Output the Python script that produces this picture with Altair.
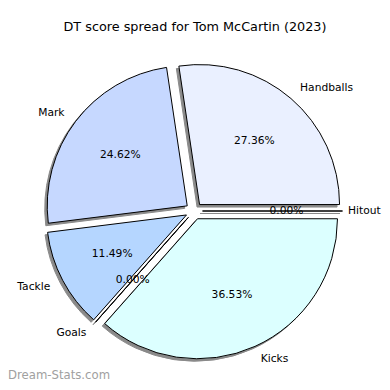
import math
import altair as alt
import pandas as pd

categories = ["Handballs", "Mark", "Tackle", "Goals", "Kicks", "Hitout"]
values = [27.36, 24.62, 11.49, 0.00, 36.53, 0.00]
colors = ["#eaf0ff", "#c6d8ff", "#b5d6ff", "#ffffff", "#dcffff", "#ffffff"]
pct_labels = ["27.36%", "24.62%", "11.49%", "0.00%", "36.53%", "0.00%"]
title_text = "DT score spread for Tom McCartin (2023)"
watermark = ["Dream-Stats.com"]

R = 140.0
EXPLODE = 8.5
FONT = "DejaVu Sans"

df = pd.DataFrame({
    "order": list(range(len(categories))),
    "category": categories,
    "value": values,
    "color": colors,
    "pct": pct_labels,
})

TWO_PI = 2 * math.pi

base = alt.Chart(df).transform_window(
    cum1="sum(value)", sort=[alt.SortField("order")], frame=[None, 0]
).transform_calculate(
    cum0="datum.cum1 - datum.value",
).transform_calculate(
    mid=f"(datum.cum0 + datum.cum1) / 2 * {TWO_PI} / 100",
).transform_calculate(
    ex=f"{EXPLODE} * cos(datum.mid)",
    ey=f"{EXPLODE} * sin(datum.mid)",
).transform_calculate(
    px=f"datum.ex + {0.6 * R} * cos(datum.mid)",
    py=f"datum.ey + {0.6 * R} * sin(datum.mid)",
    lx=f"datum.ex + {1.1 * R} * cos(datum.mid)",
    ly=f"datum.ey + {1.1 * R} * sin(datum.mid)",
).transform_calculate(
    # keep right-hand labels inside the drawing area
    lx2="datum.lx > 0 ? min(datum.lx, 154) : datum.lx",
)

xs = alt.Scale(domain=[-186, 188], nice=False, zero=False)
ys = alt.Scale(domain=[-171, 163], nice=False, zero=False)
ts = alt.Scale(domain=[0, 100], range=[math.pi / 2, math.pi / 2 - TWO_PI])

shadow = base.mark_arc(
    radius=R, fill="#8a8a8a", stroke="#8a8a8a", strokeWidth=1,
    xOffset=-2.5, yOffset=2.5,
).encode(
    x=alt.X("ex:Q", scale=xs, axis=None),
    y=alt.Y("ey:Q", scale=ys, axis=None),
    theta=alt.Theta("cum0:Q", scale=ts),
    theta2="cum1:Q",
)

wedges = base.mark_arc(radius=R, stroke="#000000", strokeWidth=1).encode(
    x=alt.X("ex:Q", scale=xs, axis=None),
    y=alt.Y("ey:Q", scale=ys, axis=None),
    theta=alt.Theta("cum0:Q", scale=ts),
    theta2="cum1:Q",
    fill=alt.Fill("color:N", scale=None),
)

pct = base.mark_text(font=FONT, fontSize=10.7, color="#000000", align="center", baseline="middle").encode(
    x=alt.X("px:Q", scale=xs, axis=None),
    y=alt.Y("py:Q", scale=ys, axis=None),
    text="pct:N",
)

lab_right = base.transform_filter("datum.lx > 0").mark_text(
    font=FONT, fontSize=10.7, color="#000000", align="left", baseline="middle"
).encode(
    x=alt.X("lx2:Q", scale=xs, axis=None),
    y=alt.Y("ly:Q", scale=ys, axis=None),
    text="category:N",
)

lab_left = base.transform_filter("datum.lx <= 0").mark_text(
    font=FONT, fontSize=10.7, color="#000000", align="right", baseline="middle"
).encode(
    x=alt.X("lx2:Q", scale=xs, axis=None),
    y=alt.Y("ly:Q", scale=ys, axis=None),
    text="category:N",
)

wm = alt.Chart(pd.DataFrame({"t": watermark})).mark_text(
    font=FONT, fontSize=11.7, color="#a0a0a0", align="left", baseline="bottom"
).encode(
    x=alt.value(0),
    y=alt.value(333),
    text="t:N",
)

chart = alt.layer(shadow, wedges, pct, lab_right, lab_left, wm).properties(
    width=374,
    height=334,
    padding={"left": 0, "top": 40, "right": 0, "bottom": 0},
    autosize=alt.AutoSizeParams(type="none"),
    title=alt.TitleParams(
        text=title_text, font=FONT, fontSize=12.8, fontWeight="normal",
        color="#000000", anchor="middle", offset=14,
    ),
).configure_view(stroke=None)

chart.save("out.html", embed_options={"renderer": "svg", "actions": False})
